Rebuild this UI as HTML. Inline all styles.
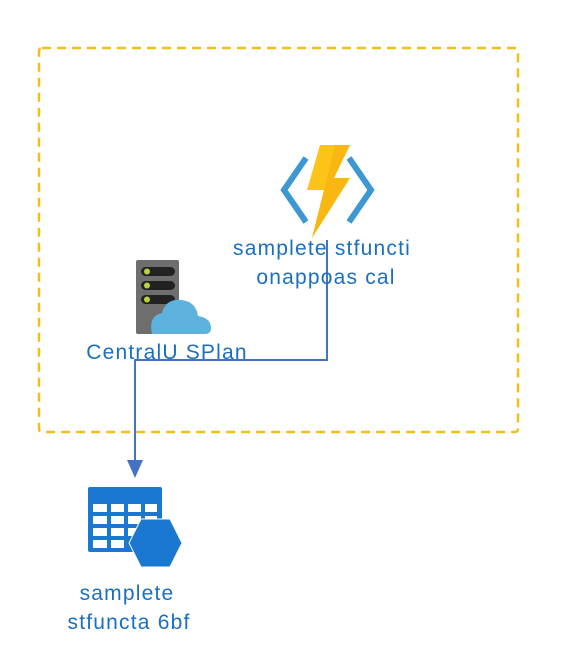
<!DOCTYPE html>
<html><head><style>
body{margin:0;width:576px;height:672px;background:#fff;overflow:hidden;font-family:"Liberation Sans","DejaVu Sans",sans-serif}
.t{position:absolute;color:#1a6fbf;font-size:21px;letter-spacing:1.2px;white-space:nowrap;line-height:29px;width:300px;text-align:center}
</style></head><body>
<svg width="576" height="672" style="position:absolute;left:0;top:0">
<rect x="39" y="48" width="479" height="384" rx="3" fill="none" stroke="#f0bf1a" stroke-width="2.5" stroke-dasharray="9,6"/>
<polyline points="306,158 284,190 306,222" fill="none" stroke="#3c97d2" stroke-width="6"/>
<polyline points="349,158 371,190 349,222" fill="none" stroke="#3c97d2" stroke-width="6"/>
<polygon points="320,145 350,145 334,178 350,178 312,238 324,190 307,190" fill="#fcc419"/>
<polygon points="335,145 350,145 334,178 350,178 312,238" fill="#f6a90d" opacity="0.5"/>
<rect x="136" y="260" width="43" height="74" rx="2" fill="#6e6e6e"/>
<rect x="141" y="267" width="34" height="9" rx="4.5" fill="#222"/>
<rect x="141" y="281" width="34" height="9" rx="4.5" fill="#222"/>
<rect x="141" y="295" width="34" height="9" rx="4.5" fill="#222"/>
<circle cx="147" cy="271.5" r="3" fill="#b6d33c"/><circle cx="147" cy="285.5" r="3" fill="#b6d33c"/><circle cx="147" cy="299.5" r="3" fill="#b6d33c"/>
<path d="M152,334 Q148,316 162,313 Q166,298 182,300 Q196,302 198,316 Q211,318 211,328 Q211,334 205,334 Z" fill="#5db3dd"/>
<polyline points="327,240 327,360 135,360 135,462" fill="none" stroke="#4472c4" stroke-width="2"/>
<polygon points="127,460 143,460 135,478" fill="#4472c4"/>
<rect x="88" y="487" width="74" height="65" rx="2" fill="#1a78d0"/>
<g fill="#fff">
<rect x="93" y="504" width="14" height="8"/><rect x="111" y="504" width="13" height="8"/><rect x="128" y="504" width="13" height="8"/><rect x="145" y="504" width="12" height="8"/>
<rect x="93" y="516" width="14" height="8"/><rect x="111" y="516" width="13" height="8"/><rect x="128" y="516" width="13" height="8"/><rect x="145" y="516" width="12" height="8"/>
<rect x="93" y="528" width="14" height="8"/><rect x="111" y="528" width="13" height="8"/><rect x="128" y="528" width="13" height="8"/>
<rect x="93" y="540" width="14" height="8"/><rect x="111" y="540" width="13" height="8"/>
</g>
<polygon points="141,519 170,519 182,543 170,567 141,567 129,543" fill="#1a78d0" stroke="#fff" stroke-width="1"/>
</svg>
<div class="t" style="left:172px;top:234px">samplete stfuncti</div>
<div class="t" style="left:176px;top:263px">onappoas cal</div>
<div class="t" style="left:17px;top:338px">CentralU SPlan</div>
<div class="t" style="left:-23px;top:579px">samplete</div>
<div class="t" style="left:-21px;top:608px">stfuncta 6bf</div>
</body></html>
